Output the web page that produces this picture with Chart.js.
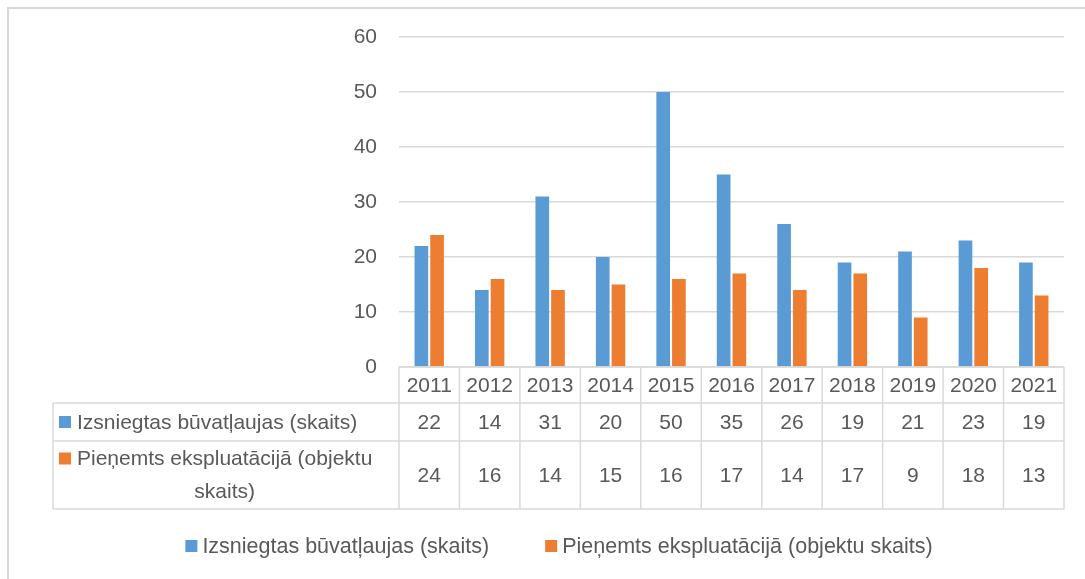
<!DOCTYPE html>
<html lang="lv">
<head>
<meta charset="UTF-8" />
<title>Būvatļaujas un ekspluatācija</title>
<script src="https://cdn.jsdelivr.net/npm/chart.js"></script>
<style>
  body { margin: 0; background: #fff; }
  .wrap { position: relative; width: 1085px; height: 579px; overflow: hidden; }
  .frame { position: absolute; left: 7px; top: 7px; width: 1200px; height: 700px; border: 2px solid #d9d9d9; box-sizing: border-box; }
  canvas { position: absolute; left: 0; top: 0; }
</style>
</head>
<body>
<div class="wrap">
  <div class="frame"></div>
  <canvas id="chart" width="1085" height="579"></canvas>
</div>
<script>
  const years = ['2011', '2012', '2013', '2014', '2015', '2016', '2017', '2018', '2019', '2020', '2021'];
  const permits = [22, 14, 31, 20, 50, 35, 26, 19, 21, 23, 19];
  const accepted = [24, 16, 14, 15, 16, 17, 14, 17, 9, 18, 13];
  const seriesNames = ['Izsniegtas būvatļaujas (skaits)', 'Pieņemts ekspluatācijā (objektu skaits)'];
  // в таблице второе название переносится на две строки
  const tableNames = [['Izsniegtas būvatļaujas (skaits)'], ['Pieņemts ekspluatācijā (objektu', 'skaits)']];
  const colors = ['#5b9bd5', '#ed7d31'];
  const yMax = 60;
  const yStep = 10;

  const FONT = '"Liberation Sans", Arial, sans-serif';
  const TEXT = '#595959';
  const LINE = '#d9d9d9';

  function line(ctx, x1, y1, x2, y2) {
    ctx.beginPath();
    ctx.moveTo(x1, y1);
    ctx.lineTo(x2, y2);
    ctx.stroke();
  }

  const dataTable = {
    id: 'dataTable',
    afterDraw(chart) {
      const ctx = chart.ctx;
      const x = chart.scales.x;
      const area = chart.chartArea;
      const colW = x.width / years.length;
      const left = 53;
      const y0 = area.bottom;
      const y1 = y0 + 36;
      const y2 = y1 + 38;
      const y3 = y2 + 68;

      ctx.save();
      ctx.strokeStyle = LINE;
      ctx.lineWidth = 1.5;
      line(ctx, x.left, y0, x.right, y0);
      line(ctx, left, y1, x.right, y1);
      line(ctx, left, y2, x.right, y2);
      line(ctx, left, y3, x.right, y3);
      line(ctx, left, y1, left, y3);
      for (let i = 0; i <= years.length; i++) {
        const xl = x.left + i * colW;
        line(ctx, xl, y0, xl, y3);
      }

      ctx.font = '21px ' + FONT;
      ctx.fillStyle = TEXT;
      ctx.textAlign = 'center';
      ctx.textBaseline = 'middle';
      years.forEach((yr, i) => {
        const cx = x.getPixelForValue(i);
        ctx.fillText(yr, cx, y0 + 19);
        ctx.fillText(String(permits[i]), cx, y1 + 20);
        ctx.fillText(String(accepted[i]), cx, y2 + 35);
      });

      // подписи строк: квадратик слева, строки центрируются по самой длинной
      const rows = [[y1, y2], [y2, y3]];
      const textX = 77;
      tableNames.forEach((lines, r) => {
        const [top, bottom] = rows[r];
        const lh = 33;
        const startY = (top + bottom) / 2 - (lines.length - 1) * lh / 2;
        const maxW = Math.max(...lines.map(t => ctx.measureText(t).width));
        ctx.fillStyle = colors[r];
        ctx.fillRect(59, startY - 6, 12, 12);
        ctx.fillStyle = TEXT;
        ctx.textAlign = 'center';
        lines.forEach((txt, k) => {
          ctx.fillText(txt, textX + maxW / 2, startY + k * lh + 1);
        });
      });

      // легенда снизу
      ctx.font = '21.5px ' + FONT;
      ctx.textAlign = 'left';
      const gap = 56;
      const widths = seriesNames.map(n => 12 + 5 + ctx.measureText(n).width);
      const total = widths[0] + gap + widths[1];
      let lx = 559 - total / 2;
      const ly = 546;
      seriesNames.forEach((n, i) => {
        ctx.fillStyle = colors[i];
        ctx.fillRect(lx, ly - 6, 12, 12);
        ctx.fillStyle = TEXT;
        ctx.fillText(n, lx + 17, ly + 1);
        lx += widths[i] + gap;
      });
      ctx.restore();
    }
  };

  new Chart(document.getElementById('chart'), {
    type: 'bar',
    data: {
      labels: years,
      datasets: [
        { label: seriesNames[0], data: permits, backgroundColor: colors[0], categoryPercentage: 0.52, barPercentage: 0.87 },
        { label: seriesNames[1], data: accepted, backgroundColor: colors[1], categoryPercentage: 0.52, barPercentage: 0.87 }
      ]
    },
    options: {
      responsive: false,
      animation: false,
      layout: { padding: { top: 37, right: 21, bottom: 212, left: 0 } },
      plugins: {
        legend: { display: false },
        tooltip: { enabled: false }
      },
      scales: {
        x: {
          afterFit(scale) { scale.height = 0; },
          grid: { display: false },
          border: { display: false },
          ticks: { display: false }
        },
        y: {
          min: 0,
          max: yMax,
          afterFit(scale) { scale.width = 399; },
          ticks: {
            stepSize: yStep,
            padding: 22,
            color: TEXT,
            font: { size: 21, family: FONT }
          },
          grid: { color: LINE, lineWidth: 1.5, drawTicks: false },
          border: { display: false }
        }
      }
    },
    plugins: [dataTable]
  });
</script>
</body>
</html>
